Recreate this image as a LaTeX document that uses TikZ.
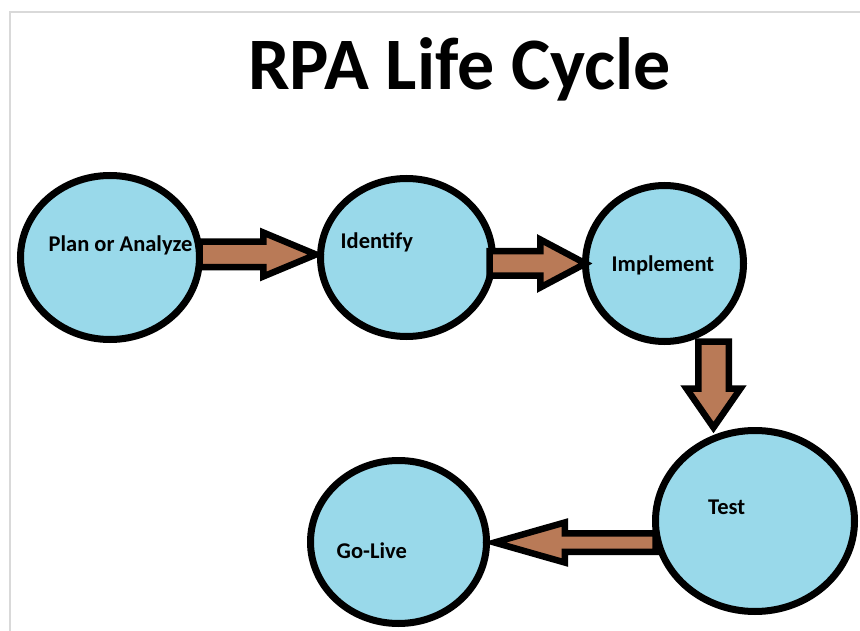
\documentclass[tikz,border=0pt]{standalone}
\usepackage{fontspec}
\setmainfont{Carlito}
\usepackage{xcolor}
\usepackage{tikz}
\usetikzlibrary{calc}
\usetikzlibrary{shapes.geometric}
\definecolor{LightBlue}{RGB}{153, 217, 234}
\definecolor{ArrowBrown}{RGB}{185, 122, 87}
\definecolor{FrameGray}{RGB}{217, 217, 217}
\tikzset{
	stage/.style={ellipse, draw=black, line width=7pt, fill=LightBlue, inner sep=0pt, outer sep=0pt},
	stagetext/.style={anchor=base west, inner sep=0pt, font=\fontsize{22.5}{27}\selectfont\bfseries},
	fatarrow/.style args={#1/#2/#3}{draw=black, line width=6.5pt, fill=ArrowBrown, line join=miter,
		to path={($(\tikztostart)!#1pt!90:(\tikztotarget)$)
			-- ($(\tikztotarget)!#3pt!(\tikztostart)!#1pt!90:(\tikztotarget)$)
			-- ($(\tikztotarget)!#3pt!(\tikztostart)!#2pt!90:(\tikztotarget)$)
			-- (\tikztotarget)
			-- ($(\tikztotarget)!#3pt!(\tikztostart)!#2pt!-90:(\tikztotarget)$)
			-- ($(\tikztotarget)!#3pt!(\tikztostart)!#1pt!-90:(\tikztotarget)$)
			-- ($(\tikztostart)!#1pt!-90:(\tikztotarget)$) -- cycle}
	},
}

\begin{document}
\begin{tikzpicture}[x=1pt, y=-1pt]
\useasboundingbox (0,0) rectangle (860,631);
\draw[FrameGray, line width=2pt] (10,631) -- (10,12.5) -- (860,12.5);

\node[anchor=base west, inner sep=0pt, font=\fontsize{74}{84}\selectfont\bfseries] (title) at (248,90) {RPA Life Cycle};

% the five stages
\node[stage, minimum width=179pt, minimum height=164pt] (plan) at (110,257.5) {};
\node[stage, minimum width=172pt, minimum height=158pt] (identify) at (406.5,257.5) {};
\node[stage, minimum width=158pt, minimum height=156pt] (implement) at (664.5,263.5) {};
\node[stage, minimum width=199pt, minimum height=181pt] (test) at (755,521) {};
\node[stage, minimum width=176pt, minimum height=163pt] (golive) at (398.5,542) {};

\coordinate (plantail) at ($(plan.east)+(0,-3)$);
\coordinate (identtip) at ($(identify.west |- plantail)+(-4.5,0)$);
\coordinate (identtail) at ($(identify.east |- implement.west)+(-3,0)$);
\coordinate (impltail) at ($(implement.south)+(49,0)$);
\coordinate (testtip) at ($(impltail |- test.north)+(0,-3)$);
\coordinate (testtail) at ($(test.west)+(0,21.5)$);
\coordinate (livetip) at ($(golive.east |- testtail)+(8,0)$);

\draw[fatarrow=12.75/22/52.75] (plantail) to (identtip);
\draw[fatarrow=12.25/24/45.25] (identtail) to (implement.west);
\draw[fatarrow=15.25/27/39] (impltail) to (testtip);
\draw[fatarrow=9.25/20/70.25] (testtail) to (livetip);

\node[stagetext] (plantext) at (48.5,252) {Plan or Analyze};
\node[stagetext] (identtext) at (340.5,249) {Identify};
\node[stagetext] (impltext) at (611.5,272) {Implement};
\node[stagetext] (testtext) at (708,514) {Test};
\node[stagetext] (livetext) at (336.5,558) {Go-Live};
\end{tikzpicture}
\end{document}
